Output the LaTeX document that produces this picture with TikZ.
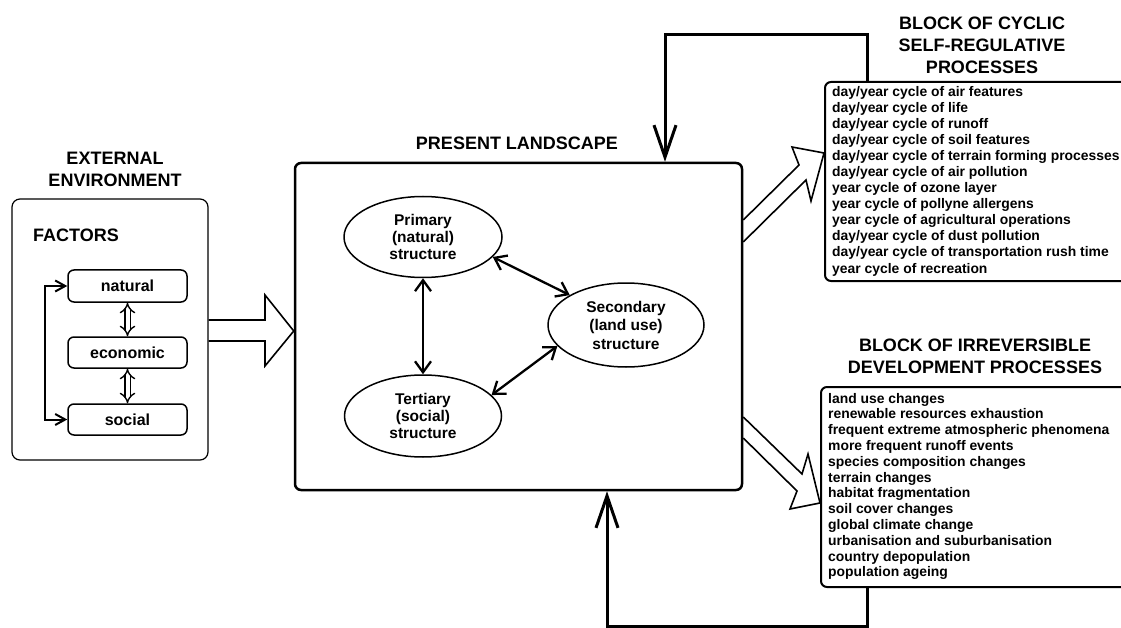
\documentclass[tikz,border=0pt]{standalone}
\usepackage{fontspec}
\setmainfont{Liberation Sans}
\usetikzlibrary{arrows.meta,shapes.geometric,calc}
\begin{document}
\begin{tikzpicture}[x=1pt,y=-1pt,
  ttl/.style={font=\fontsize{18}{22}\selectfont\bfseries, align=center, inner sep=0pt},
  lst/.style={font=\fontsize{13.9}{16}\selectfont\bfseries, anchor=base west, inner sep=0pt},
  fbox/.style={draw, rounded corners=6pt, line width=1.5pt, minimum width=119pt, minimum height=31pt, font=\fontsize{16}{18}\selectfont\bfseries, inner sep=0pt},
  ell/.style={draw, ellipse, line width=1.5pt, inner sep=0pt, align=center, font=\fontsize{15.5}{17}\selectfont\bfseries},
  lbox/.style={draw, rounded corners=6pt, line width=2pt, inner sep=0pt},
  barb/.style={line width=2.3pt, {Straight Barb[length=11pt,width=16pt]}-{Straight Barb[length=11pt,width=16pt]}},
  brk/.style={line width=2pt, {Straight Barb[length=10pt,width=11pt]}-{Straight Barb[length=10pt,width=11pt]}},
  dbl/.style={double, double distance=4pt, line width=1.4pt, {Implies}-{Implies}},
  fb/.style={line width=3pt, -{Straight Barb[length=32pt,width=22pt]}},
  hollow/.style={line width=1.6pt, line join=miter},
]
\useasboundingbox (0,0) rectangle (1121,628);
\clip (0,0) rectangle (1121,628);

% external environment
\node[ttl] (extT) at (115,169) {EXTERNAL\\ENVIRONMENT};
\node[draw, rounded corners=8pt, line width=1.2pt, minimum width=196pt, minimum height=261pt, inner sep=0pt] (ext) at (110,329.5) {};
\node[ttl, anchor=west] (facT) at (33,235) {FACTORS};
\node[fbox, minimum height=32pt] (nat) at (127.5,286) {natural};
\node[fbox] (eco) at (127.5,352.5) {economic};
\node[fbox] (soc) at (127.5,419.5) {social};
\coordinate (bk) at (45,352);
\draw[brk] (nat.west) -| (bk) |- (soc.west);
\draw[dbl] (nat.south) -- (eco.north);
\draw[dbl] (eco.south) -- (soc.north);

% present landscape
\node[ttl] (landT) at (517,143) {PRESENT LANDSCAPE};
\node[draw, rounded corners=6pt, line width=2.5pt, minimum width=447pt, minimum height=327pt, inner sep=0pt] (land) at (518.5,326.5) {};
\node[ell, minimum width=158pt, minimum height=81pt] (prim) at (423,237) {Primary\\(natural)\\structure};
\node[ell, minimum width=157pt, minimum height=82pt] (ter) at (423,416) {Tertiary\\(social)\\structure};
\node[ell, minimum width=156pt, minimum height=84pt, font=\fontsize{15.5}{18.5}\selectfont\bfseries] (sec) at (626,325) {Secondary\\(land use)\\structure};
\draw[barb] (prim.south) -- (ter.north);
\draw[barb] (prim.-16) -- (sec.152);
\draw[barb] (ter.17) -- (sec.-163);

% hollow arrow ext -> landscape
\draw[hollow] (ext.east |- 0,320) -- (265,320) -- (265,295) -- (land.west |- 0,331) -- (265,366) -- (265,341) -- (ext.east |- 0,341);

% cyclic block
\node[ttl] (cycT) at (982,45) {BLOCK OF CYCLIC\\SELF-REGULATIVE\\PROCESSES};
\node[lbox, minimum width=380pt, minimum height=199pt] (cyc) at (1015,181.5) {};
\foreach \t [count=\i] in {day/year cycle of air features, day/year cycle of life, day/year cycle of runoff, day/year cycle of soil features, day/year cycle of terrain forming processes, day/year cycle of air pollution, year cycle of ozone layer, year cycle of pollyne allergens, year cycle of agricultural operations, day/year cycle of dust pollution, day/year cycle of transportation rush time, year cycle of recreation}
  \node[lst] (c\i) at (832,{81+16*\i}) {\t};

% irreversible block
\node[ttl] (irrT) at (975,356.5) {BLOCK OF IRREVERSIBLE\\DEVELOPMENT PROCESSES};
\node[lbox, minimum width=380pt, minimum height=200pt] (irr) at (1011,487) {};
\foreach \t [count=\i] in {land use changes, renewable resources exhaustion, frequent extreme atmospheric phenomena, more frequent runoff events, species composition changes, terrain changes, habitat fragmentation, soil cover changes, global climate change, urbanisation and suburbanisation, country depopulation, population ageing}
  \node[lst] (r\i) at (828,{387.2+15.8*\i}) {\t};

% hollow arrows landscape -> blocks
\draw[hollow] (land.east |- 0,220) -- (799,165) -- (792,147) -- (cyc.west |- 0,153) -- (811,201) -- (806,180) -- (land.east |- 0,242);
\draw[hollow] (land.east |- 0,417) -- (802,474) -- (808,454) -- (irr.west |- 0,503) -- (790,509) -- (797,491) -- (land.east |- 0,438);

% feedback loops
\coordinate (fbR) at (867,0);
\coordinate (fbL) at (665,35);
\coordinate (fbB) at (607,626.5);
\draw[fb] (fbR |- cyc.north) |- (fbL) -- (fbL |- land.north);
\draw[fb] (fbR |- irr.south) |- (fbB) -- (fbB |- land.south);
\end{tikzpicture}
\end{document}
